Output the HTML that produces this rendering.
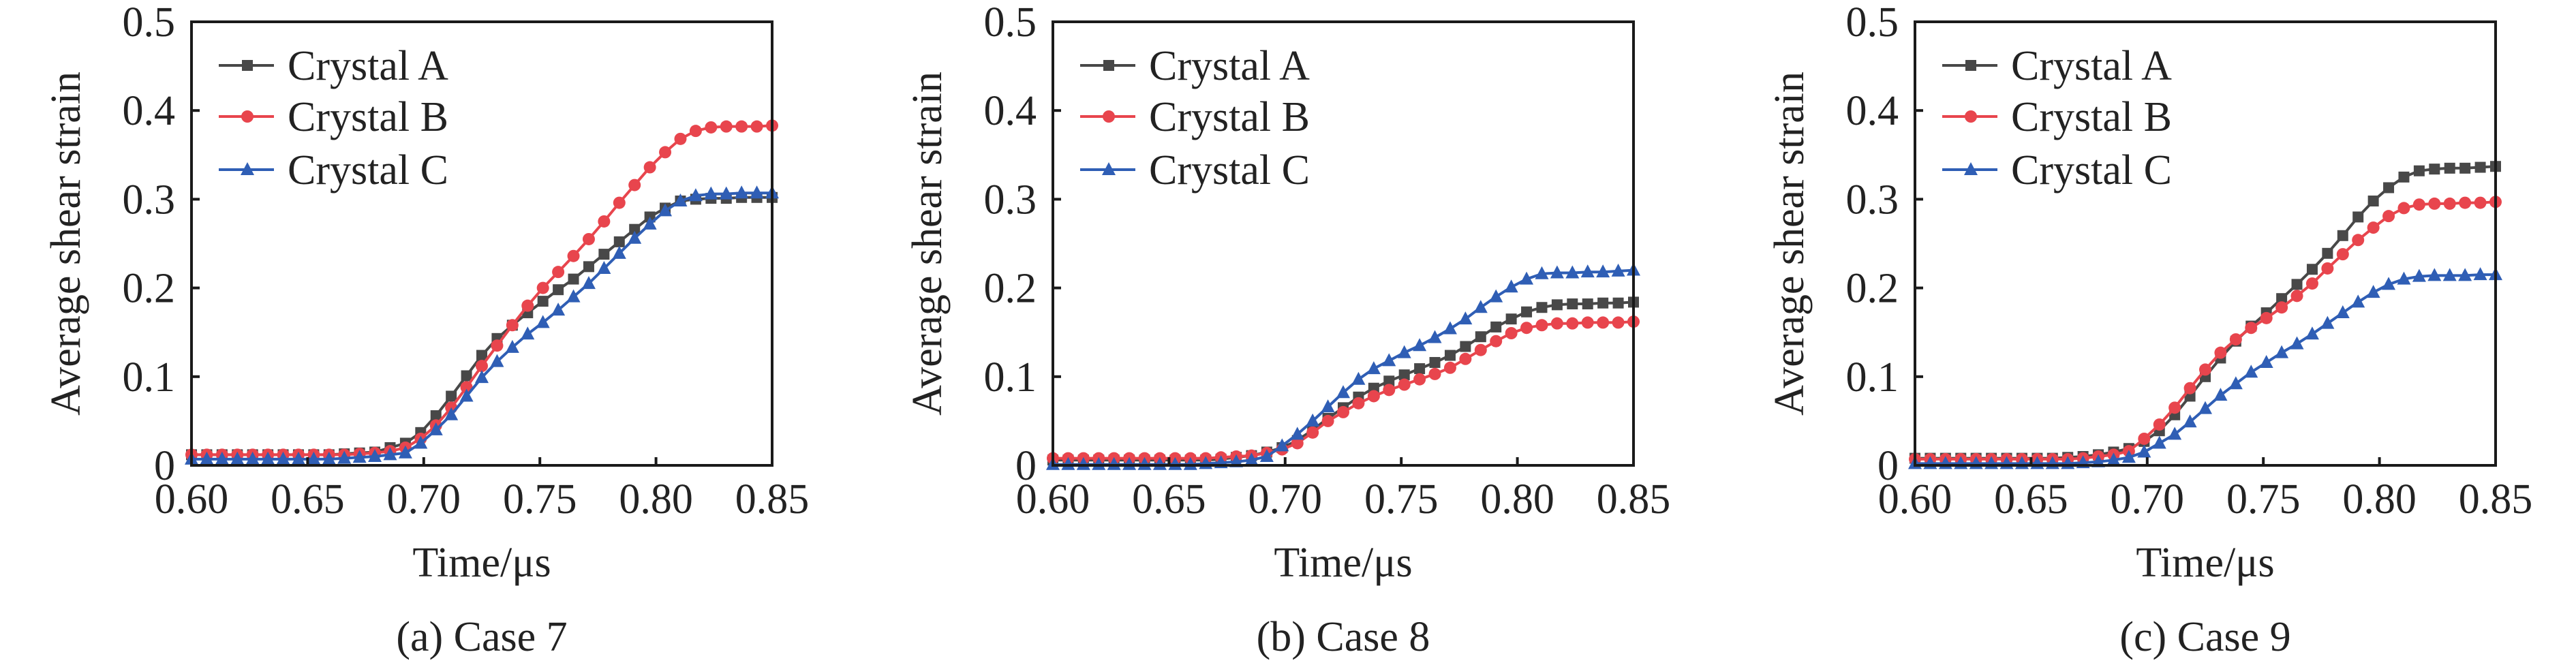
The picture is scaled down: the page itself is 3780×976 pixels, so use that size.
<!DOCTYPE html>
<html><head><meta charset="utf-8"><style>
html,body{margin:0;padding:0;background:#fff;}
svg{display:block;}
text{font-family:"Liberation Serif",serif;fill:#222;}
</style></head><body>
<svg id="fig" width="3780" height="976" viewBox="0 0 3780 976" xmlns="http://www.w3.org/2000/svg"></svg>
<script>
const yTicks = [0, 0.1, 0.2, 0.3, 0.4, 0.5];
const yTickLabels = ["0", "0.1", "0.2", "0.3", "0.4", "0.5"];
const xTicks = [0.60, 0.65, 0.70, 0.75, 0.80, 0.85];
const xTickLabels = ["0.60", "0.65", "0.70", "0.75", "0.80", "0.85"];
const seriesNames = ["Crystal A", "Crystal B", "Crystal C"];
const captions = ["(a) Case 7", "(b) Case 8", "(c) Case 9"];
const tStart = 0.60, tEnd = 0.85, nPts = 39;

const case7A = [0.012,0.012,0.012,0.012,0.012,0.012,0.012,0.012,0.012,0.012,0.013,0.014,0.015,0.02,0.025,0.037,0.056,0.078,0.101,0.124,0.143,0.158,0.172,0.185,0.198,0.21,0.224,0.238,0.252,0.266,0.28,0.29,0.298,0.3,0.301,0.301,0.302,0.302,0.302];
const case7B = [0.012,0.012,0.012,0.012,0.012,0.012,0.012,0.012,0.012,0.012,0.012,0.013,0.014,0.016,0.02,0.03,0.045,0.065,0.088,0.112,0.135,0.158,0.18,0.2,0.218,0.236,0.255,0.275,0.296,0.316,0.336,0.353,0.368,0.377,0.381,0.382,0.382,0.382,0.383];
const case7C = [0.007,0.007,0.007,0.007,0.007,0.007,0.007,0.007,0.007,0.007,0.008,0.009,0.01,0.012,0.014,0.025,0.04,0.057,0.078,0.099,0.117,0.133,0.148,0.161,0.175,0.19,0.205,0.222,0.239,0.256,0.272,0.287,0.298,0.304,0.306,0.306,0.307,0.307,0.307];

const case8A = [0.006,0.006,0.006,0.006,0.006,0.006,0.006,0.006,0.006,0.006,0.006,0.007,0.009,0.011,0.015,0.02,0.028,0.04,0.053,0.065,0.077,0.087,0.095,0.102,0.109,0.116,0.124,0.134,0.145,0.156,0.165,0.173,0.178,0.181,0.182,0.182,0.183,0.183,0.184];
const case8B = [0.008,0.008,0.008,0.008,0.008,0.008,0.008,0.008,0.008,0.008,0.008,0.009,0.01,0.011,0.014,0.018,0.025,0.037,0.05,0.06,0.07,0.078,0.085,0.091,0.097,0.103,0.11,0.12,0.13,0.14,0.149,0.155,0.158,0.16,0.16,0.161,0.161,0.161,0.162];
const case8C = [0.001,0.001,0.001,0.001,0.001,0.001,0.001,0.001,0.001,0.001,0.002,0.003,0.004,0.006,0.01,0.022,0.035,0.05,0.066,0.082,0.097,0.109,0.118,0.127,0.135,0.144,0.154,0.165,0.178,0.19,0.201,0.21,0.216,0.217,0.217,0.218,0.218,0.219,0.22];

const case9A = [0.008,0.008,0.008,0.008,0.008,0.008,0.008,0.008,0.008,0.008,0.009,0.01,0.012,0.015,0.019,0.027,0.039,0.057,0.078,0.1,0.121,0.14,0.157,0.172,0.188,0.204,0.221,0.239,0.259,0.28,0.298,0.313,0.325,0.332,0.334,0.335,0.335,0.336,0.337];
const case9B = [0.007,0.007,0.007,0.007,0.007,0.007,0.007,0.007,0.007,0.007,0.007,0.008,0.01,0.012,0.016,0.03,0.046,0.065,0.087,0.108,0.127,0.142,0.155,0.166,0.178,0.191,0.205,0.222,0.238,0.254,0.268,0.281,0.29,0.294,0.295,0.295,0.296,0.296,0.297];
const case9C = [0.002,0.002,0.002,0.002,0.002,0.002,0.002,0.002,0.002,0.002,0.002,0.003,0.004,0.006,0.009,0.015,0.025,0.035,0.049,0.064,0.079,0.092,0.105,0.116,0.127,0.137,0.148,0.16,0.172,0.184,0.195,0.204,0.21,0.213,0.214,0.214,0.214,0.215,0.215];

const panels = [[case7A, case7B, case7C], [case8A, case8B, case8C], [case9A, case9B, case9C]];
const colors = ["#484848", "#e8454d", "#2f5eb5"];
const markers = ["square", "circle", "triangle"];
const lefts = [281, 1545, 2810];
const W = 852, TOP = 32, BOT = 683;

const NS = "http://www.w3.org/2000/svg";
const svg = document.getElementById("fig");
function mk(tag, attrs, parent) {
  const e = document.createElementNS(NS, tag);
  for (const k in attrs) e.setAttribute(k, attrs[k]);
  (parent || svg).appendChild(e);
  return e;
}
function drawMarker(type, x, y, color, g) {
  let m;
  if (type === "square") m = mk("rect", {x: x - 8, y: y - 8, width: 16, height: 16, fill: color}, g);
  else if (type === "circle") m = mk("circle", {cx: x, cy: y, r: 9, fill: color}, g);
  else m = mk("polygon", {points: `${x},${y - 11} ${x - 10},${y + 8} ${x + 10},${y + 8}`, fill: color}, g);
  return m;
}

panels.forEach((series, p) => {
  const L = lefts[p], R = L + W;
  const xs = v => L + (v - tStart) / (tEnd - tStart) * W;
  const ys = v => BOT - v / 0.5 * (BOT - TOP);
  const g = mk("g", {});
  
  

  // series
  series.forEach((vals, s) => {
    const sg = mk("g", {}, g);
    
    
    let d = "";
    vals.forEach((v, i) => {
      const t = tStart + i * (tEnd - tStart) / (nPts - 1);
      d += (i ? "L" : "M") + xs(t).toFixed(1) + "," + ys(v).toFixed(1);
    });
    const path = mk("path", {d: d, fill: "none", stroke: colors[s], "stroke-width": 4}, sg);
    
    
    vals.forEach((v, i) => {
      const t = tStart + i * (tEnd - tStart) / (nPts - 1);
      const m = drawMarker(markers[s], xs(t), ys(v), colors[s], sg);
      
      
    });
  });

  // frame
  const fr = mk("rect", {x: L, y: TOP, width: W, height: BOT - TOP, fill: "none", stroke: "#1a1a1a", "stroke-width": 4}, g);
  
  

  // y ticks
  yTicks.forEach((v, i) => {
    const y = ys(v);
    const tk = mk("line", {x1: L, x2: L + 12, y1: y, y2: y, stroke: "#1a1a1a", "stroke-width": 4}, g);
    
    
    const tx = mk("text", {x: L - 24, y: y + 21, "font-size": 62, "text-anchor": "end"}, g);
    tx.textContent = yTickLabels[i];
    
    
  });
  // x ticks
  xTicks.forEach((v, i) => {
    const x = xs(v);
    const tk = mk("line", {x1: x, x2: x, y1: BOT, y2: BOT - 12, stroke: "#1a1a1a", "stroke-width": 4}, g);
    
    
    const tx = mk("text", {x: x, y: 753, "font-size": 62, "text-anchor": "middle"}, g);
    tx.textContent = xTickLabels[i];
    
    
  });
  // axis titles
  const xt = mk("text", {x: L + W / 2, y: 846, "font-size": 62, "text-anchor": "middle"}, g);
  xt.textContent = "Time/\u03bcs";
  
  
  const yt = mk("text", {x: 0, y: 0, "font-size": 62, "text-anchor": "middle", transform: `translate(${L - 164},${(TOP + BOT) / 2}) rotate(-90)`}, g);
  yt.textContent = "Average shear strain";
  
  
  const cp = mk("text", {x: L + W / 2, y: 955, "font-size": 62, "text-anchor": "middle"}, g);
  cp.textContent = captions[p];
  
  

  // legend
  const lg = mk("g", {}, g);
  
  
  const rows = [96, 171, 249];
  seriesNames.forEach((n, s) => {
    const eg = mk("g", {}, lg);
    
    
    mk("line", {x1: L + 40, x2: L + 121, y1: rows[s], y2: rows[s], stroke: colors[s], "stroke-width": 4}, eg);
    drawMarker(markers[s], L + 82, rows[s], colors[s], eg);
    const t = mk("text", {x: L + 141, y: rows[s] + 21, "font-size": 62}, eg);
    t.textContent = n;
  });
});
</script>
</body></html>
